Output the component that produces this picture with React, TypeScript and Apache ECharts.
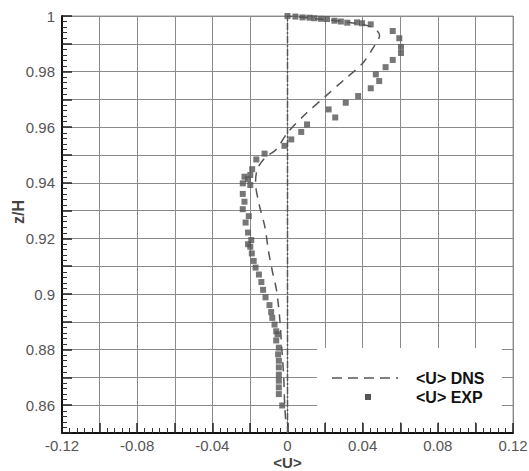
import React, { useEffect, useRef } from "react";
import * as echarts from "echarts";

const FONT = "'Liberation Sans', Arial, Helvetica, sans-serif";

// DNS profile: [<U>, z/H]
const dnsU = [-0.001, -0.0015, -0.002, -0.003, -0.004, -0.005, -0.006, -0.008, -0.010, -0.012, -0.015, -0.017, -0.016, -0.012, -0.006, 0.0, 0.010, 0.020, 0.030, 0.040, 0.046, 0.049, 0.045, 0.030, 0.015, 0.0];
const dnsZ = [0.855, 0.860, 0.870, 0.880, 0.890, 0.897, 0.902, 0.908, 0.915, 0.924, 0.932, 0.940, 0.945, 0.949, 0.952, 0.958, 0.965, 0.971, 0.977, 0.983, 0.989, 0.993, 0.996, 0.998, 0.999, 1.0];

// Experimental points: [<U>, z/H]
const expU = [0, 0.0042, 0.008, 0.0117, 0.0143, 0.0178, 0.021, 0.025, 0.0284, 0.0318, 0.037, 0.0397, 0.0443,
  0.056, 0.0595, 0.0604, 0.0604, 0.056, 0.0522, 0.047, 0.0488, 0.0443, 0.0376, 0.031, 0.0219, 0.0254, 0.0104, 0.0073, 0.002, -0.0016,
  -0.0122, -0.0166, -0.0188, -0.0198, -0.0229, -0.0211, -0.0238, -0.0198, -0.0238, -0.0229, -0.0238, -0.0206, -0.0223,
  -0.021, -0.0193, -0.021, -0.0198, -0.019, -0.018, -0.017, -0.0152, -0.0139, -0.013, -0.0117, -0.0096, -0.0087,
  -0.0081, -0.0069, -0.006, -0.0053, -0.006, -0.0046, -0.005, -0.0046, -0.0046, -0.0046, -0.0046, -0.0046, -0.0046, -0.0028];
const expZ = [1.0, 0.9998, 0.9995, 0.9994, 0.9992, 0.999, 0.9989, 0.9983, 0.998, 0.9976, 0.9977, 0.9974, 0.997,
  0.9946, 0.992, 0.9889, 0.9867, 0.9842, 0.9816, 0.979, 0.9766, 0.974, 0.9712, 0.9688, 0.9664, 0.9635, 0.961, 0.9583, 0.9556, 0.9533,
  0.9505, 0.9484, 0.9449, 0.9428, 0.9422, 0.9413, 0.9398, 0.9392, 0.936, 0.9332, 0.9305, 0.928, 0.9257,
  0.9221, 0.9194, 0.9179, 0.917, 0.9146, 0.9119, 0.9095, 0.907, 0.9043, 0.9015, 0.8988, 0.896, 0.8935,
  0.8914, 0.889, 0.8866, 0.8855, 0.8833, 0.8807, 0.8783, 0.876, 0.8736, 0.871, 0.8688, 0.8664, 0.864, 0.8599];

const zeroLineU = [0, 0];
const zeroLineZ = [0.85, 1.0];

const legendNames = ["<U> DNS", "<U> EXP"];

const fmt = (v: number) => String(Math.round(v * 100) / 100);

export default function App() {
  const ref = useRef<HTMLDivElement>(null);
  useEffect(() => {
    if (!ref.current) return;
    const chart = echarts.init(ref.current, null, { renderer: "svg" });
    const option: any = {
      animation: false,
      backgroundColor: "#fff",
      textStyle: { fontFamily: FONT },
      grid: {
        left: 62, right: 16, top: 16, bottom: 38,
        outerBoundsMode: "none",
        containLabel: false,
        show: true, borderColor: "#9a9a9a", borderWidth: 1,
      },
      xAxis: {
        type: "value",
        min: -0.12, max: 0.12, interval: 0.02,
        name: "<U>", nameLocation: "middle", nameGap: 22, nameMoveOverlap: false,
        nameTextStyle: { fontFamily: FONT, fontSize: 15, fontWeight: "bold", color: "#444", verticalAlign: "top" },
        axisLine: { show: true, onZero: false, lineStyle: { color: "#111", width: 2 } },
        axisTick: { show: true, inside: true, length: 10, lineStyle: { color: "#222", width: 1.5 } },
        minorTick: { show: true, splitNumber: 5, length: 5, lineStyle: { color: "#333", width: 1 } },
        axisLabel: {
          margin: 5, fontFamily: FONT, fontSize: 15, color: "#555",
          formatter: (v: number) => (Math.round(v * 100) % 4 === 0 ? fmt(v) : ""),
        },
        splitLine: { show: true, lineStyle: { color: "#8a8a8a", width: 1 } },
      },
      yAxis: {
        type: "value",
        min: 0.85, max: 1.0, interval: 0.01,
        name: "z/H", nameLocation: "middle", nameGap: 36, nameRotate: 90, nameMoveOverlap: false,
        nameTextStyle: { fontFamily: FONT, fontSize: 16, fontWeight: "bold", color: "#444", padding: [0, 0, 0, 25] },
        axisLine: { show: true, onZero: false, lineStyle: { color: "#111", width: 2 } },
        axisTick: { show: true, inside: true, length: 10, lineStyle: { color: "#222", width: 1.5 } },
        minorTick: { show: true, splitNumber: 5, length: 5, lineStyle: { color: "#333", width: 1 } },
        axisLabel: {
          margin: 7, fontFamily: FONT, fontSize: 15, color: "#555",
          formatter: (v: number) => (Math.round(v * 100) % 2 === 0 ? fmt(v) : ""),
        },
        splitLine: { show: true, lineStyle: { color: "#8a8a8a", width: 1 } },
      },
      series: [
        {
          name: "zero",
          type: "line",
          data: zeroLineU.map((u, i) => [u, zeroLineZ[i]]),
          showSymbol: false,
          lineStyle: { color: "#555", width: 1.5, type: [7, 2, 2, 2] },
          z: 2,
        },
        {
          name: legendNames[0],
          type: "line",
          data: dnsU.map((u, i) => [u, dnsZ[i]]),
          showSymbol: false,
          smooth: 0.3,
          lineStyle: { color: "#555", width: 1.5, type: [9, 7] },
          z: 3,
        },
        {
          name: legendNames[1],
          type: "scatter",
          data: expU.map((u, i) => [u, expZ[i]]),
          symbol: "rect",
          symbolSize: 6,
          itemStyle: { color: "#555" },
          z: 4,
        },
      ],
      graphic: [
        {
          type: "rect", z: 10,
          shape: { x: 317, y: 348, width: 185, height: 74 },
          style: { fill: "#fff" },
        },
        {
          type: "line", z: 11,
          shape: { x1: 332, y1: 378, x2: 398, y2: 378 },
          style: { stroke: "#555", lineWidth: 1.5, lineDash: [10, 6] },
        },
        {
          type: "rect", z: 11,
          shape: { x: 365, y: 394, width: 6, height: 6 },
          style: { fill: "#555" },
        },
        {
          type: "text", z: 11, x: 416, y: 378,
          style: { text: legendNames[0], fill: "#111", font: `bold 16px ${FONT}`, verticalAlign: "middle", align: "left" },
        },
        {
          type: "text", z: 11, x: 416, y: 397,
          style: { text: legendNames[1], fill: "#111", font: `bold 16px ${FONT}`, verticalAlign: "middle", align: "left" },
        },
      ],
    };
    chart.setOption(option);
    return () => chart.dispose();
  }, []);
  return (
    <div
      ref={ref}
      style={{ position: "fixed", left: 0, top: 0, width: 529, height: 471, background: "#fff" }}
    />
  );
}
